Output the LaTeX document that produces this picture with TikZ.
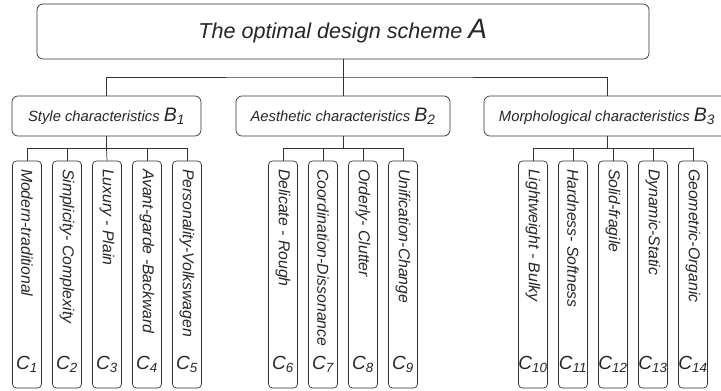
\documentclass[tikz,border=0pt]{standalone}
\usepackage{fontspec}
\setmainfont{Liberation Sans}
\usetikzlibrary{positioning}

\newcommand\symsub[3]{{\fontsize{#1}{#1}\selectfont #2\textsubscript{#3}}}

\tikzset{
  topbox/.style={draw=black!80, rounded corners=6pt, minimum width=612pt, minimum height=55pt,
    text=black!85, font=\itshape\fontsize{21.6}{26}\selectfont},
  catbox/.style={draw=black!80, rounded corners=6pt, minimum height=40pt, inner sep=0pt,
    text=black!85, font=\itshape\fontsize{14.8}{18}\selectfont},
  itembox/.style={draw=black!80, rounded corners=4pt, minimum width=29pt, minimum height=227pt, inner sep=0pt},
  itemtext/.style={rotate=-90, anchor=west, inner sep=0pt, text=black!85,
    font=\itshape\fontsize{15.8}{18}\selectfont},
  itemlabel/.style={inner sep=0pt, text=black!85, font=\itshape\fontsize{15}{18}\selectfont},
  link/.style={draw=black!80, line width=0.7pt}
}

\begin{document}
\begin{tikzpicture}[x=1pt, y=-1pt, line width=0.7pt]
        \clip (0,0) rectangle (721,391);

        % goal
        \node[topbox] (A) at (343,31.5) {The optimal design scheme \symsub{28}{A}{}};

        % criteria
        \node[catbox, minimum width=189pt] (B1) at (106.5,116) {Style characteristics \symsub{19.5}{B}{1}};
        \node[catbox, minimum width=214pt] (B2) at (343,116) {Aesthetic characteristics \symsub{19.5}{B}{2}};
        \node[catbox, minimum width=246pt] (B3) at (607,116) {Morphological characteristics \symsub{19.5}{B}{3}};

        \coordinate (busA) at (343,77);
        \draw[link] (A.south) -- (busA);
        \draw[link] (B1.north) |- (busA) -| (B3.north);
        \draw[link] (busA) -- (B2.north);

        % sub-criteria
        \foreach \n/\x/\txt in {1/27/Modern-traditional, 2/67/Simplicity- Complexity, 3/107/Luxury - Plain,
            4/147/Avant-garde -Backward, 5/187/Personality-Volkswagen,
            6/283/Delicate - Rough, 7/323/Coordination-Dissonance, 8/363/Orderly- Clutter, 9/403/Unification-Change,
            10/533/Lightweight - Bulky, 11/573/Hardness- Softness, 12/613/Solid-fragile,
            13/653/Dynamic-Static, 14/693/Geometric-Organic}{
            \node[itembox] (C\n) at (\x,274.5) {};
            \node[itemtext] (T\n) at ([yshift=-8pt]C\n.north) {\txt};
            \node[itemlabel] (L\n) at ([yshift=24pt]C\n.south) {\symsub{19}{C}{\n}};
        }

        % links criteria to sub-criteria
        \draw[link] (B1.south) -- ++(0,12) coordinate (bus1);
        \draw[link] (C1.north) |- (bus1) -| (C5.north);
        \draw[link] (C2.north) |- (bus1);
        \draw[link] (C4.north) |- (bus1);
        \draw[link] (bus1) -- (C3.north);

        \draw[link] (B2.south) -- ++(0,12) coordinate (bus2);
        \draw[link] (C6.north) |- (bus2) -| (C9.north);
        \draw[link] (C7.north) |- (bus2);
        \draw[link] (C8.north) |- (bus2);

        \draw[link] (B3.south) -- ++(0,12) coordinate (bus3);
        \draw[link] (C10.north) |- (bus3) -| (C14.north);
        \draw[link] (C11.north) |- (bus3);
        \draw[link] (C12.north) |- (bus3);
        \draw[link] (C13.north) |- (bus3);
\end{tikzpicture}
\end{document}
